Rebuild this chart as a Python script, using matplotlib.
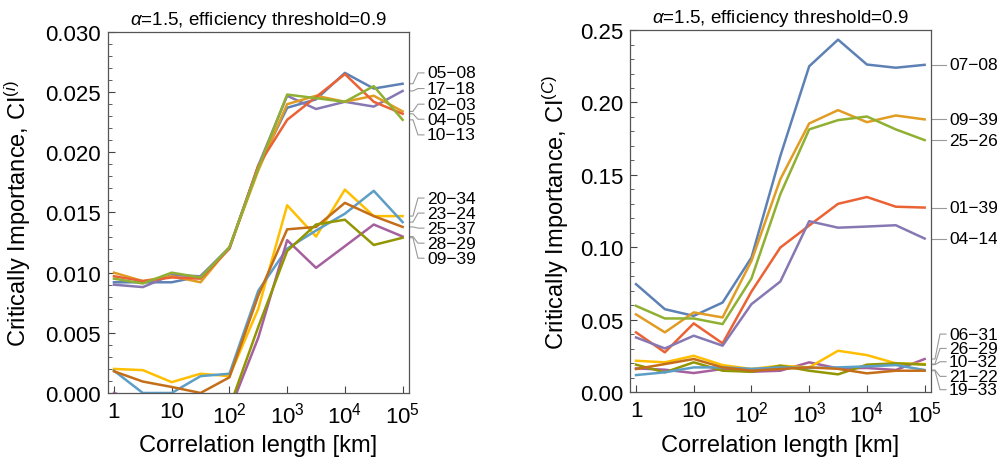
import matplotlib.pyplot as plt
from matplotlib.ticker import FixedLocator, MultipleLocator, NullLocator

plt.rcParams['font.family'] = ['Liberation Sans', 'DejaVu Sans']
plt.rcParams['mathtext.fontset'] = 'custom'
plt.rcParams['mathtext.rm'] = 'Liberation Sans'
plt.rcParams['mathtext.it'] = 'Liberation Sans:italic'

# correlation lengths [km]
corr_len = [1, 3.162, 10, 31.62, 100, 316.2, 1000, 3162, 10000, 31623, 100000]

# left panel: CI^(i), values in units of 1e-3
left_names = ['05−08', '17−18', '02−03', '04−05', '10−13',
              '20−34', '23−24', '25−37', '28−29', '09−39']
left_vals = [
    [9.2, 9.2, 9.2, 9.7, 12.1, 18.8, 23.7, 24.4, 26.6, 25.3, 25.7],
    [9.0, 8.8, 9.8, 9.7, 12.0, 18.9, 24.7, 23.6, 24.2, 23.8, 25.1],
    [10.0, 9.3, 9.7, 9.2, 12.1, 18.5, 24.0, 24.7, 24.2, 24.7, 23.4],
    [9.7, 9.3, 9.6, 9.5, 12.0, 18.9, 22.7, 24.6, 26.5, 24.2, 23.2],
    [9.5, 9.1, 10.0, 9.6, 12.1, 18.7, 24.8, 24.5, 24.2, 25.5, 22.7],
    [2.0, 1.9, 0.9, 1.6, 1.4, 7.0, 15.6, 13.0, 16.9, 14.7, 14.7],
    [1.85, 0.0, 0.0, 1.4, 1.6, 8.5, 12.0, 13.5, 14.9, 16.8, 14.2],
    [1.8, 0.95, 0.5, 0.0, 1.3, 8.1, 13.6, 13.8, 15.8, 14.7, 13.8],
    [0.0, -0.8, -1.0, -1.0, -1.5, 4.6, 12.7, 10.4, 12.2, 14.0, 13.0],
    [-1.0, -1.0, -1.2, -1.2, -1.2, 5.5, 11.8, 14.0, 14.4, 12.3, 12.9],
]
left_colors = ['#5E81B5', '#8778B3', '#E19C24', '#EB6235', '#8FB032',
               '#FFBF00', '#5D9EC7', '#C56E1A', '#A5609D', '#929600']
left_label_y = [26.6, 25.3, 24.0, 22.75, 21.45, 16.2, 14.95, 13.7, 12.45, 11.2]

# right panel: CI^(C)
right_names = ['07−08', '09−39', '25−26', '01−39', '04−14',
               '06−31', '26−29', '10−32', '21−22', '19−33']
right_vals = [
    [0.0745, 0.0572, 0.0526, 0.0618, 0.0929, 0.163, 0.225, 0.2434, 0.2262, 0.224, 0.226],
    [0.0536, 0.0412, 0.055, 0.0515, 0.0906, 0.147, 0.1855, 0.1947, 0.1864, 0.191, 0.1883],
    [0.0595, 0.0508, 0.0508, 0.0469, 0.0784, 0.1366, 0.1814, 0.1878, 0.1903, 0.1814, 0.174],
    [0.0412, 0.0274, 0.0474, 0.0336, 0.0694, 0.0998, 0.115, 0.130, 0.1347, 0.128, 0.1274],
    [0.0377, 0.0301, 0.0389, 0.032, 0.0607, 0.0763, 0.118, 0.1135, 0.1143, 0.1152, 0.106],
    [0.0163, 0.0154, 0.0131, 0.0159, 0.014, 0.0147, 0.0205, 0.0163, 0.0166, 0.0152, 0.0228],
    [0.0216, 0.0205, 0.025, 0.0186, 0.0159, 0.0182, 0.017, 0.0285, 0.0255, 0.0198, 0.0193],
    [0.0189, 0.0136, 0.0205, 0.0147, 0.014, 0.0182, 0.0147, 0.0122, 0.0189, 0.0198, 0.0189],
    [0.0117, 0.0136, 0.017, 0.017, 0.016, 0.017, 0.0166, 0.017, 0.0177, 0.0186, 0.0152],
    [0.0159, 0.0193, 0.0228, 0.017, 0.0147, 0.0159, 0.017, 0.016, 0.0129, 0.0147, 0.0147],
]
right_colors = ['#5E81B5', '#E19C24', '#8FB032', '#EB6235', '#8778B3',
                '#A5609D', '#FFBF00', '#929600', '#5D9EC7', '#C56E1A']
right_label_y = [0.226, 0.1883, 0.174, 0.1274, 0.106, 0.040, 0.0301, 0.0209, 0.0108, 0.0016]

xtick_vals = [1, 10, 100, 1000, 10000, 100000]
xtick_labels = ['1', '10', '$10^2$', '$10^3$', '$10^4$', '$10^5$']

title = r'$\alpha$=1.5, efficiency threshold=0.9'


def style_axes(ax, ymax, major, minor, ylabel):
    ax.set_xscale('log')
    ax.set_xlim(10 ** -0.104, 10 ** 5.11)
    ax.set_ylim(0, ymax)
    ax.xaxis.set_major_locator(FixedLocator(xtick_vals))
    ax.xaxis.set_minor_locator(NullLocator())
    ax.set_xticklabels(xtick_labels)
    ax.yaxis.set_major_locator(MultipleLocator(major))
    ax.yaxis.set_minor_locator(MultipleLocator(minor))
    ax.tick_params(which='both', direction='in', top=False, right=False,
                   labelsize=16, color='#444444')
    ax.tick_params(which='major', length=5, width=0.8)
    ax.tick_params(which='minor', length=3, width=0.6)
    ax.tick_params(axis='y', pad=5)
    ax.tick_params(axis='x', pad=6)
    for s in ax.spines.values():
        s.set_color('#555555')
        s.set_linewidth(0.9)
    ax.set_xlabel('Correlation length [km]', fontsize=17)
    ax.set_ylabel(ylabel, fontsize=17)
    ax.set_title(title, fontsize=13.5, pad=6)


def leaders(ax, ends, label_ys, names, ymax):
    # gray callout lines from the line ends to the labels on the right
    w = 301.0
    for yend, ylab, name in zip(ends, label_ys, names):
        xs = [1 + 1 / w, 1 + 4 / w, 1 + 9 / w, 1 + 15 / w]
        ys = [yend / ymax, yend / ymax, ylab / ymax, ylab / ymax]
        ax.plot(xs, ys, color='#999999', lw=0.8, transform=ax.transAxes,
                clip_on=False)
        ax.text(1 + 18 / w, ylab / ymax, name, transform=ax.transAxes,
                fontsize=12.5, va='center', ha='left')


fig = plt.figure(figsize=(9.97, 4.64), dpi=100)
ax1 = fig.add_axes([0.1083, 0.1509, 0.3019, 0.778])
ax2 = fig.add_axes([0.6319, 0.1530, 0.3019, 0.780])

for vals, c in zip(left_vals, left_colors):
    ax1.plot(corr_len, [v * 1e-3 for v in vals], color=c, lw=1.8)
style_axes(ax1, 0.030, 0.005, 0.001, r'Critically Importance, CI$^{(i)}$')
ax1.yaxis.set_major_formatter(plt.FormatStrFormatter('%.3f'))
leaders(ax1, [v[-1] * 1e-3 for v in left_vals],
        [y * 1e-3 for y in left_label_y], left_names, 0.030)
ax1.yaxis.set_label_coords(-0.249, 0.5)
ax1.xaxis.set_label_coords(0.5, -0.115)

for vals, c in zip(right_vals, right_colors):
    ax2.plot(corr_len, vals, color=c, lw=1.8)
style_axes(ax2, 0.25, 0.05, 0.01, r'Critically Importance, CI$^{(C)}$')
ax2.yaxis.set_major_formatter(plt.FormatStrFormatter('%.2f'))
leaders(ax2, [v[-1] for v in right_vals], right_label_y, right_names, 0.25)
ax2.yaxis.set_label_coords(-0.196, 0.5)
ax2.xaxis.set_label_coords(0.5, -0.115)

fig.savefig('out.png', dpi=100)
